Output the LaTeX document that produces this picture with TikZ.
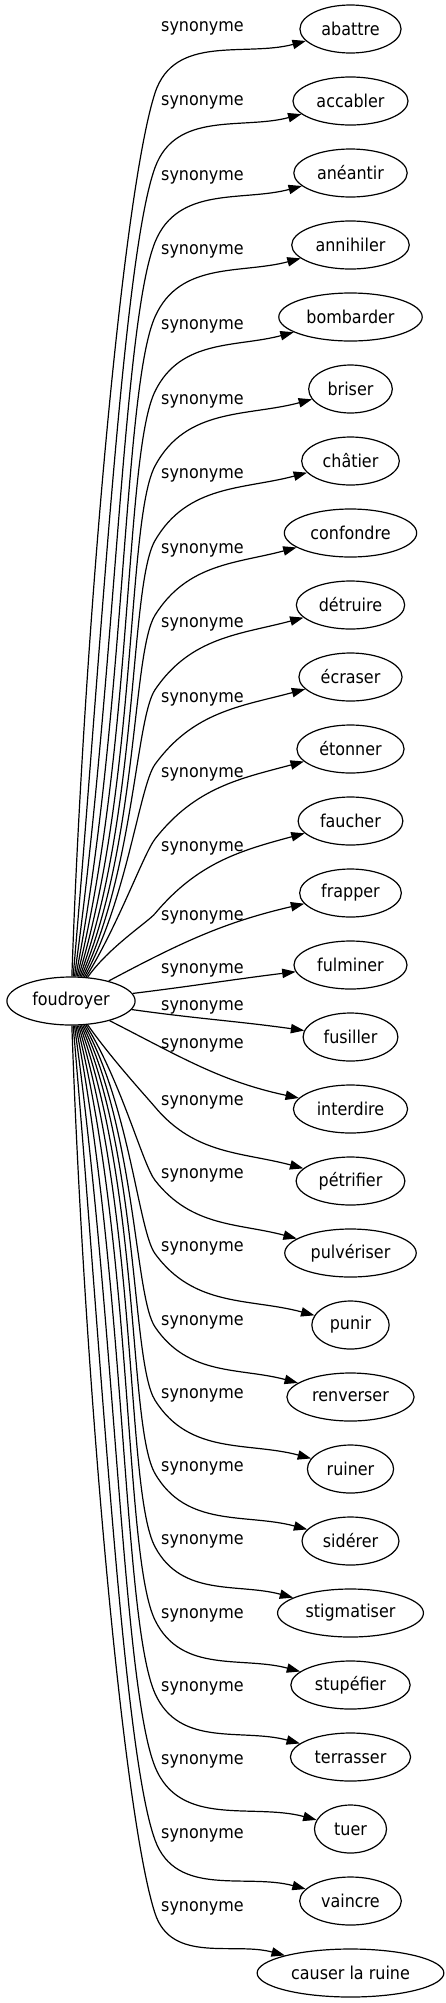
\documentclass[tikz,border=0pt]{standalone}
\usepackage{fontspec}
\setmainfont{DejaVu Sans Condensed}
\usetikzlibrary{shapes.geometric,arrows.meta}

\begin{document}
\begin{tikzpicture}[
  x=0.75pt, y=-0.75pt,
  word/.style={ellipse, draw, line width=0.9pt, inner xsep=5pt, inner ysep=3pt,
               minimum width=54pt, minimum height=36pt,
               font=\fontsize{13.3}{16}\selectfont},
  arr/.style={-{Triangle[length=10pt,width=7pt]}, line width=0.9pt},
  lbl/.style={inner sep=0pt, font=\fontsize{13.3}{16}\selectfont}
]
  \useasboundingbox (0,0) rectangle (446,2003);

  \node[word] (foudroyer) at (71,1001) {foudroyer};
  \foreach \name/\word [count=\i from 0] in {abattre/abattre, accabler/accabler,
      aneantir/anéantir, annihiler/annihiler, bombarder/bombarder, briser/briser,
      chatier/châtier, confondre/confondre, detruire/détruire, ecraser/écraser,
      etonner/étonner, faucher/faucher, frapper/frapper, fulminer/fulminer,
      fusiller/fusiller, interdire/interdire, petrifier/pétrifier,
      pulveriser/pulvériser, punir/punir, renverser/renverser, ruiner/ruiner,
      siderer/sidérer, stigmatiser/stigmatiser, stupefier/stupéfier,
      terrasser/terrasser, tuer/tuer, vaincre/vaincre, causer/causer la ruine}
    \node[word] (\name) at (350.5,{29+72*\i}) {\word};

  % edges going up
  \foreach \name [count=\i from 0] in {abattre, accabler, aneantir, annihiler,
      bombarder, briser, chatier, confondre, detruire, ecraser, etonner, faucher} {
    \pgfmathsetmacro\ly{28+74.6*\i}
    \pgfmathsetmacro\by{\ly+65}
    \pgfmathtruncatemacro\aout{88-3*\i}
    \pgfmathtruncatemacro\abend{72-2*\i}
    \pgfmathtruncatemacro\aback{\abend+180}
    \draw[arr] (foudroyer) to[out=\aout, in=\aback, in looseness=0.3] (155,\by)
      to[out=\abend, in=195] (\name);
    \node[lbl] (s-\name) at (202.5,\ly) {synonyme};
  }

  % edges in the middle
  \draw[arr] (foudroyer) to[out=28, in=193] (frapper);
  \node[lbl] (s-frapper) at (202.5,917) {synonyme};
  \draw[arr] (foudroyer) to[out=7, in=187] (fulminer);
  \node[lbl] (s-fulminer) at (202.5,970) {synonyme};
  \draw[arr] (foudroyer) to[out=-8, in=172] (fusiller);
  \node[lbl] (s-fusiller) at (202.5,1007) {synonyme};
  \draw[arr] (foudroyer) to[out=-27, in=168] (interdire);
  \node[lbl] (s-interdire) at (202.5,1045) {synonyme};

  % edges going down
  \foreach \name [count=\k from 0] in {petrifier, pulveriser, punir, renverser,
      ruiner, siderer, stigmatiser, stupefier, terrasser, tuer, vaincre, causer} {
    \pgfmathsetmacro\ly{1102+73.3*\k}
    \pgfmathsetmacro\by{\ly+5}
    \pgfmathtruncatemacro\aout{-55-3*\k}
    \pgfmathtruncatemacro\abend{-50-2*\k}
    \pgfmathtruncatemacro\aback{\abend+180}
    \draw[arr] (foudroyer) to[out=\aout, in=\aback, in looseness=0.3] (155,\by)
      to[out=\abend, in=165] (\name);
    \node[lbl] (s-\name) at (202.5,\ly) {synonyme};
  }
\end{tikzpicture}
\end{document}
